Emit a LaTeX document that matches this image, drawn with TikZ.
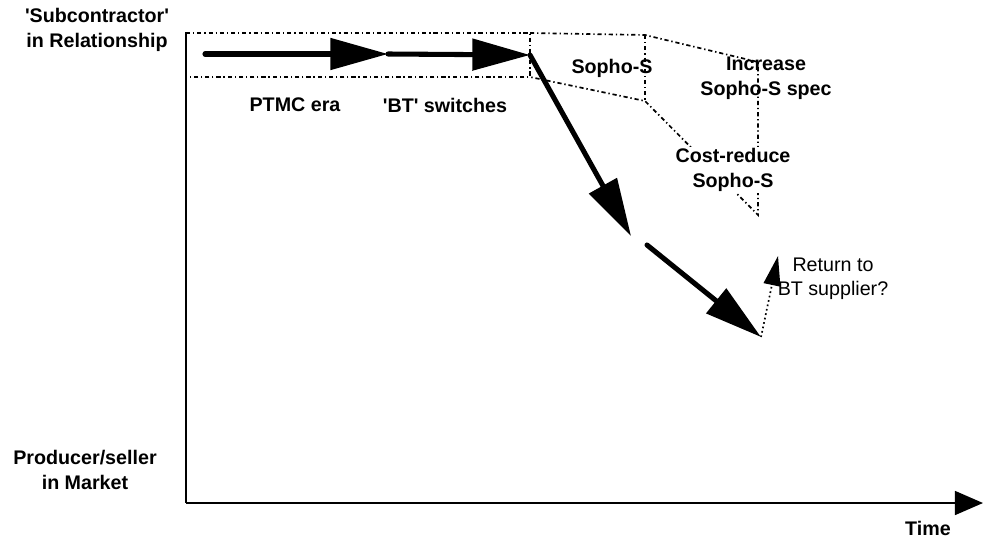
\documentclass[tikz,border=0pt]{standalone}
\usepackage{fontspec}
\setmainfont{Liberation Sans}
\usepackage{xcolor}
\usetikzlibrary{arrows.meta,calc,positioning}
\definecolor{inkblack}{RGB}{0,0,0}
\tikzset{
  axislabel/.style={font=\fontsize{14}{17.5}\selectfont\bfseries,align=center,
    inner sep=0pt,text=inkblack},
  phaselabel/.style={font=\fontsize{14}{17.5}\selectfont\bfseries,align=center,
    inner sep=1pt,text=inkblack},
  notelabel/.style={font=\fontsize{14}{17}\selectfont,align=center,
    inner sep=1pt,text=inkblack},
  axisline/.style={line width=1.5pt,draw=inkblack},
  timeaxis/.style={axisline,-{Triangle[length=20pt,width=17pt]}},
  path/.style={line width=3.6pt,draw=inkblack,line cap=round,
    -{Triangle[length=41pt,width=22pt]}},
  maybepath/.style={line width=1.2pt,draw=inkblack,dotted,
    -{Triangle[length=21pt,width=12pt]}},
  boundary/.style={line width=1.2pt,draw=inkblack,
    dash pattern=on 3pt off 2pt on 1pt off 2pt}
}

\begin{document}
\begin{tikzpicture}[x=0.025cm,y=-0.025cm]
  \useasboundingbox (0,0) rectangle (983,539);
  % axes
  \coordinate (origin) at (186,503);
  \coordinate (ytop) at (186,32);
  \coordinate (xend) at (983,503);
  \draw[axisline] (ytop) -- (origin);
  \draw[timeaxis] (origin) -- (xend);
  \node[axislabel] (subc) at (97,30)
    {\textquotesingle Subcontractor\textquotesingle\\in Relationship};
  \node[axislabel] (prod) at (85,470) {Producer/seller\\in Market};
  \node[axislabel,anchor=base] (time) at (928,535) {Time};
  % regions of relationship
  \coordinate (boxtl) at (186,33);
  \coordinate (boxtr) at (530,33);
  \coordinate (boxbr) at (530,77);
  \coordinate (boxbl) at (186,77);
  \coordinate (soptop) at (645,35);
  \coordinate (sopbot) at (645,101);
  \coordinate (spectop) at (758,62);
  \coordinate (specbot) at (758,215);
  \draw[boundary] (boxtl) -- (boxtr) -- (boxbr) -- (boxbl);
  \draw[boundary] (boxtr) -- (soptop) -- (spectop) -- (specbot)
    -- (sopbot) -- (boxbr);
  \draw[boundary] (soptop) -- (sopbot);
  \node[phaselabel] (ptmc) at (295,105) {PTMC era};
  \node[phaselabel] (btsw) at (445,105)
    {\textquotesingle BT\textquotesingle{} switches};
  \node[phaselabel] (sopho) at (612,68) {Sopho-S};
  \node[phaselabel] (incr) at (766,78) {Increase\\Sopho-S spec};
  \node[phaselabel,fill=white] (cost) at (733,170) {Cost-reduce\\Sopho-S};
  \node[notelabel] (ret) at (833,279) {Return to\\BT supplier?};
  % trajectory
  \coordinate (start) at (205,54);
  \coordinate (mid) at (388,54);
  \coordinate (corner) at (530,55);
  \coordinate (gapa) at (631,236);
  \coordinate (gapb) at (647,245);
  \coordinate (low) at (761,337);
  \coordinate (back) at (778,256);
  \draw[path] (start) -- (mid);
  \draw[path] (mid) -- (corner);
  \draw[path] (corner) -- (gapa);
  \draw[path] (gapb) -- (low);
  \draw[maybepath] (low) -- (back);
\end{tikzpicture}
\end{document}
